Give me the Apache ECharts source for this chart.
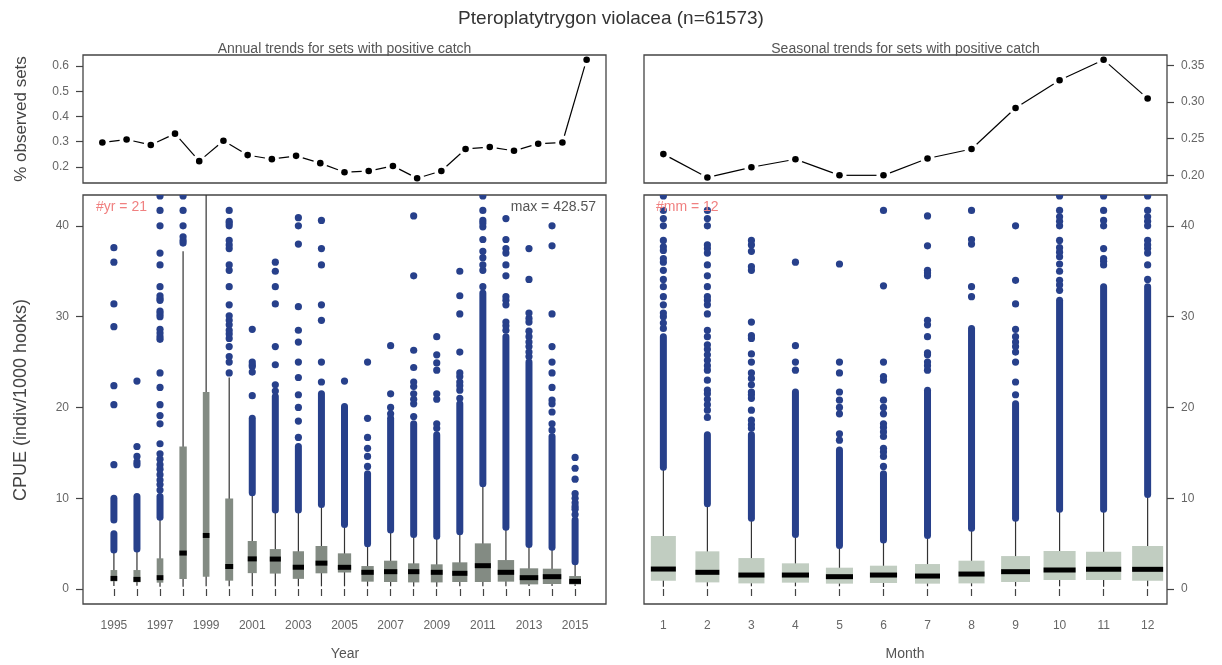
<!DOCTYPE html>
<html><head><meta charset="utf-8">
<script src="https://cdn.jsdelivr.net/npm/echarts@6/dist/echarts.min.js"></script>
<style>html,body{margin:0;padding:0;background:#fff}#c{width:1222px;height:665px}</style>
</head><body><div id="c"></div>
<script>
// ---------------- data ----------------
const years = [1995,1996,1997,1998,1999,2000,2001,2002,2003,2004,2005,2006,2007,2008,2009,2010,2011,2012,2013,2014,2015];
const yearTickLabels = [1995,1997,1999,2001,2003,2005,2007,2009,2011,2013,2015];
const yearPct = [0.297,0.309,0.287,0.332,0.223,0.304,0.247,0.231,0.244,0.215,0.179,0.184,0.204,0.155,0.184,0.271,0.279,0.264,0.292,0.297,0.625];

const months = [1,2,3,4,5,6,7,8,9,10,11,12];
const monthPct = [0.229,0.197,0.211,0.222,0.200,0.200,0.223,0.236,0.292,0.330,0.358,0.305];

// box statistics (CPUE, indiv/1000 hooks)
const yearLow  = [0.33,0.35,0.26,0.26,0.30,0.30,0.30,0.30,0.30,0.30,0.30,0.30,0.30,0.28,0.25,0.30,0.30,0.30,0.33,0.33,0.33];
const yearQ1   = [0.85,0.75,0.70,1.10,1.35,0.92,1.75,1.70,1.12,1.73,1.82,0.81,0.77,0.73,0.73,0.77,0.77,0.81,0.51,0.55,0.51];
const yearMed  = [1.17,1.06,1.25,3.96,5.90,2.48,3.32,3.30,2.40,2.85,2.39,1.84,1.91,1.91,1.84,1.73,2.57,1.84,1.25,1.36,0.84];
const yearQ3   = [2.09,2.09,3.38,15.7,21.7,9.97,5.29,4.40,4.16,4.74,3.93,2.53,3.12,2.83,2.72,2.94,5.03,3.19,2.28,2.24,1.43];
const yearHigh = [4.1,4.2,7.7,37.2,48.0,23.3,10.4,8.5,8.5,9.1,6.9,4.85,6.3,5.84,5.65,6.13,11.4,6.57,4.74,4.48,2.75];
const yearWeight = [0.36,0.38,0.36,0.40,0.36,0.43,0.49,0.60,0.61,0.64,0.72,0.67,0.72,0.61,0.64,0.82,0.87,0.89,1.00,1.00,0.64];

// outliers: dense stretches [from, to] and single points
const yearOutDense = [
  [[4.3,6.1],[7.6,10.0]], [[4.4,10.2]], [[7.9,10.2]], [], [], [],
  [[10.6,18.8]], [[8.7,21.2]], [[8.7,15.7]], [[9.3,21.5]], [[7.1,20.1]],
  [[5.0,12.7]], [[6.5,18.8]], [[6.0,18.2]], [[5.8,17.0]], [[6.3,20.4]],
  [[11.6,32.6]], [[6.8,27.8]], [[4.9,25.0]], [[4.6,16.8]], [[3.0,7.6]]
];
const yearOutPoints = [
  [13.7,20.3,22.4,28.9,31.4,36.0,37.6],
  [13.7,14.0,14.6,15.7,22.9],
  [10.9,11.5,12.0,12.6,13.2,13.7,14.3,14.9,16.0,18.2,19.1,20.3,22.2,23.8,27.5,27.8,28.2,28.6,30.0,30.3,30.6,31.8,32.0,32.3,33.3,35.7,37.0,40.0,41.7,43.3],
  [38.1,38.4,38.8,40.0,41.7,43.3],
  [],
  [23.8,25.0,25.6,26.7,27.6,28.1,28.5,29.1,29.6,30.1,31.3,33.3,35.1,35.7,37.5,37.9,38.4,40.0,40.3,40.5,41.7],
  [21.3,23.9,24.5,24.7,25.0,28.6],
  [21.8,22.5,24.7,26.7,31.4,33.3,35.0,36.0],
  [16.7,18.5,20.0,21.4,23.3,25.0,27.2,28.5,31.1,38.0,40.0,40.9],
  [22.8,25.0,29.6,31.3,35.7,37.5,40.6],
  [22.9],
  [13.5,14.6,15.5,16.7,18.8,25.0],
  [19.3,20.0,21.5,26.8],
  [19.0,20.4,20.9,21.5,22.3,22.8,24.4,26.3,34.5,41.1],
  [17.7,18.2,20.9,21.5,24.1,24.9,25.8,27.8],
  [21.0,21.9,22.4,22.8,23.4,23.8,26.1,30.3,32.3,35.0],
  [33.3,35.1,35.7,36.5,37.2,38.5,39.9,40.3,40.6,41.7,43.3],
  [28.5,29.0,29.4,31.3,31.8,32.2,34.5,35.7,37.0,37.5,38.5,40.8],
  [25.6,26.1,26.7,27.2,27.8,28.4,29.4,29.8,30.4,34.1,37.5],
  [17.5,18.2,19.5,20.4,20.8,22.2,23.8,25.0,26.7,30.3,37.8,40.0],
  [8.2,8.8,9.1,9.5,10.0,10.5,12.1,13.3,14.5]
];

const monthLow  = [0.26,0.30,0.30,0.30,0.30,0.22,0.30,0.30,0.30,0.30,0.26,0.30];
const monthQ1   = [0.92,0.73,0.62,0.70,0.59,0.66,0.59,0.62,0.77,0.99,0.99,0.92];
const monthMed  = [2.20,1.84,1.54,1.54,1.36,1.54,1.43,1.65,1.91,2.09,2.17,2.17];
const monthQ3   = [5.84,4.15,3.41,2.83,2.35,2.57,2.75,3.12,3.63,4.18,4.11,4.74];
const monthHigh = [13.2,9.25,7.67,5.84,4.66,5.21,5.76,6.57,7.6,8.63,8.63,10.2];
const monthWeight = [0.71,0.68,0.74,0.77,0.77,0.77,0.71,0.74,0.82,0.91,1.00,0.88];

const monthOutDense = [
  [[13.4,27.8]], [[9.4,17.0]], [[7.8,17.0]], [[6.0,21.7]], [[4.8,15.3]], [[5.4,12.7]],
  [[5.9,21.9]], [[6.7,28.7]], [[7.8,20.4]], [[8.8,31.8]], [[8.8,33.3]], [[10.4,33.3]]
];
const monthOutPoints = [
  [28.7,29.3,30.0,30.4,31.3,32.2,33.3,34.1,35.1,36.0,36.4,37.3,37.7,38.4,40.0,40.8,41.7,43.3],
  [18.9,19.7,20.3,20.9,21.5,21.9,23.0,24.1,24.6,25.2,25.8,26.4,26.9,27.8,28.5,30.3,31.3,31.8,32.2,33.3,34.5,35.7,37.0,37.5,37.9,40.0,40.8,41.7],
  [17.7,18.1,18.6,19.7,21.0,21.4,21.7,22.5,23.2,23.8,25.0,25.9,27.6,27.9,29.4,35.1,35.5,37.2,37.9,38.4],
  [24.1,25.0,26.8,36.0],
  [16.4,17.1,19.3,20.0,20.8,21.7,23.8,25.0,35.8],
  [13.5,14.6,15.1,15.5,16.8,17.3,17.8,18.2,19.3,20.0,20.8,23.0,23.4,25.0,33.4,41.7],
  [24.1,24.6,25.0,25.8,26.0,27.8,29.1,29.6,34.5,34.8,35.1,37.8,41.1],
  [32.2,33.3,38.0,38.5,41.7],
  [21.4,22.8,25.0,26.1,26.7,27.2,27.8,28.6,31.4,34.0,40.0],
  [32.9,33.5,34.0,35.0,35.8,36.6,37.1,37.6,38.4,40.0,40.5,41.0,41.7,43.3],
  [35.7,36.1,36.4,37.5,40.0,40.6,41.7,43.3],
  [34.1,35.7,37.0,37.5,37.9,38.4,40.0,40.5,41.0,41.7,43.3]
];

const pctTicksLeft = [0.2,0.3,0.4,0.5,0.6];
const pctTicksRight = [0.20,0.25,0.30,0.35];
const cpueTicks = [0,10,20,30,40];
const maxCpue = 428.57;
const totalN = 61573;

// ---------------- rendering ----------------
const FONT = "'Liberation Sans', Arial, sans-serif";
const BLUE = '#27408B';
const AX = '#444';
const LAB = '#666';

function pctRender(params, api) {
  const x = api.value(0), y = api.value(1);
  const p = api.coord([x, y]);
  const children = [{type:'circle', shape:{cx:p[0], cy:p[1], r:3.3}, style:{fill:'#000'}}];
  const nx = api.value(2), ny = api.value(3);
  if (!isNaN(nx)) {
    const q = api.coord([nx, ny]);
    const dx = q[0]-p[0], dy = q[1]-p[1], L = Math.hypot(dx, dy), g = 7;
    if (L > 2*g) children.push({type:'line', shape:{x1:p[0]+dx*g/L, y1:p[1]+dy*g/L, x2:q[0]-dx*g/L, y2:q[1]-dy*g/L}, style:{stroke:'#000', lineWidth:1.2}});
  }
  return {type:'group', children};
}
function pctData(xs, vs) {
  return xs.map((x, i) => [x, vs[i], i < xs.length-1 ? xs[i+1] : NaN, i < xs.length-1 ? vs[i+1] : NaN]);
}
function boxRender(color) {
  return function(params, api) {
    const x = api.value(0);
    const unit = api.size([1, 0])[0];
    const w = api.value(6) * 0.8 * unit;
    const pL = api.coord([x, api.value(1)]);
    const p1 = api.coord([x, api.value(2)]);
    const pm = api.coord([x, api.value(3)]);
    const p3 = api.coord([x, api.value(4)]);
    const pH = api.coord([x, api.value(5)]);
    return {type:'group', children:[
      {type:'line', shape:{x1:pL[0], y1:pL[1], x2:pH[0], y2:pH[1]}, style:{stroke:'#333', lineWidth:1.2}},
      {type:'rect', shape:{x:p3[0]-w/2, y:p3[1], width:w, height:p1[1]-p3[1]}, style:{fill:color}},
      {type:'line', shape:{x1:pm[0]-w/2, y1:pm[1], x2:pm[0]+w/2, y2:pm[1]}, style:{stroke:'#000', lineWidth:5}}
    ]};
  };
}
function boxData(xs, lo, q1, md, q3, hi, wt) {
  return xs.map((x, i) => [x, lo[i], q1[i], md[i], q3[i], hi[i], wt[i]]);
}
function denseRender(params, api) {
  const x = api.value(0);
  const a = api.coord([x, api.value(1)]), b = api.coord([x, api.value(2)]);
  return {type:'line', shape:{x1:a[0], y1:a[1], x2:b[0], y2:b[1]}, style:{stroke:BLUE, lineWidth:7, lineCap:'round'}};
}
function pointRender(params, api) {
  const p = api.coord([api.value(0), api.value(1)]);
  return {type:'circle', shape:{cx:p[0], cy:p[1], r:3.6}, style:{fill:BLUE}};
}
function denseData(xs, dense) {
  const out = [];
  xs.forEach((x, i) => dense[i].forEach(r => out.push([x, r[0], r[1]])));
  return out;
}
function pointData(xs, pts) {
  const out = [];
  xs.forEach((x, i) => pts[i].forEach(v => out.push([x, v])));
  return out;
}

const labelStyle = {fontFamily: FONT, fontSize: 12, color: LAB};
function hiddenX(grid, min, max) {
  return {type:'value', gridIndex:grid, min, max, axisLine:{show:false}, axisTick:{show:false}, axisLabel:{show:false}, splitLine:{show:false}};
}
function shownX(grid, min, max, ticks, labels) {
  return {type:'value', gridIndex:grid, min, max,
    axisLine:{show:false},
    axisTick:{show:true, length:7, customValues:ticks, lineStyle:{color:AX, width:1.2}},
    axisLabel:Object.assign({customValues:labels, margin:16, formatter:v => String(v)}, labelStyle),
    splitLine:{show:false}};
}
function yAx(grid, min, max, ticks, pos, dec) {
  return {type:'value', gridIndex:grid, min, max, position:pos,
    axisLine:{show:false},
    axisTick:{show:true, length:7, customValues:ticks, lineStyle:{color:AX, width:1.2}},
    axisLabel:Object.assign({customValues:ticks, margin:14, formatter:v => Number(v).toFixed(dec)}, labelStyle),
    splitLine:{show:false}};
}

const gridBase = {show:true, borderColor:AX, borderWidth:1.3, backgroundColor:'transparent', containLabel:false};
const option = {
  animation: false,
  backgroundColor: '#fff',
  grid: [
    Object.assign({left:83, top:55, width:523, height:128}, gridBase),
    Object.assign({left:644, top:55, width:523, height:128}, gridBase),
    Object.assign({left:83, top:195, width:523, height:409}, gridBase),
    Object.assign({left:644, top:195, width:523, height:409}, gridBase)
  ],
  xAxis: [
    hiddenX(0, 1994.2, 2015.8),
    hiddenX(1, 0.56, 12.44),
    shownX(2, 1993.66, 2016.34, years, yearTickLabels),
    shownX(3, 0.56, 12.44, months, months)
  ],
  yAxis: [
    yAx(0, 0.1364, 0.6437, pctTicksLeft, 'left', 1),
    yAx(1, 0.1895, 0.3645, pctTicksRight, 'right', 2),
    yAx(2, -1.65, 43.4, cpueTicks, 'left', 0),
    yAx(3, -1.65, 43.4, cpueTicks, 'right', 0)
  ],
  series: [
    {type:'custom', xAxisIndex:0, yAxisIndex:0, clip:true, renderItem:pctRender, data:pctData(years, yearPct)},
    {type:'custom', xAxisIndex:1, yAxisIndex:1, clip:true, renderItem:pctRender, data:pctData(months, monthPct)},
    {type:'custom', xAxisIndex:2, yAxisIndex:2, clip:true, renderItem:boxRender('#838B83'),
      data:boxData(years, yearLow, yearQ1, yearMed, yearQ3, yearHigh, yearWeight)},
    {type:'custom', xAxisIndex:2, yAxisIndex:2, clip:true, renderItem:denseRender, data:denseData(years, yearOutDense)},
    {type:'custom', xAxisIndex:2, yAxisIndex:2, clip:true, renderItem:pointRender, data:pointData(years, yearOutPoints)},
    {type:'custom', xAxisIndex:3, yAxisIndex:3, clip:true, renderItem:boxRender('#C1CDC1'),
      data:boxData(months, monthLow, monthQ1, monthMed, monthQ3, monthHigh, monthWeight)},
    {type:'custom', xAxisIndex:3, yAxisIndex:3, clip:true, renderItem:denseRender, data:denseData(months, monthOutDense)},
    {type:'custom', xAxisIndex:3, yAxisIndex:3, clip:true, renderItem:pointRender, data:pointData(months, monthOutPoints)}
  ],
  graphic: [
    {type:'text', x:611, y:19, style:{text:'Pteroplatytrygon violacea (n=' + totalN + ')', font:'19px ' + FONT, fill:'#333', textAlign:'center', textVerticalAlign:'middle'}},
    {type:'text', x:344.5, y:49, style:{text:'Annual trends for sets with positive catch', font:'14px ' + FONT, fill:'#555', textAlign:'center', textVerticalAlign:'middle'}},
    {type:'text', x:905.5, y:49, style:{text:'Seasonal trends for sets with positive catch', font:'14px ' + FONT, fill:'#555', textAlign:'center', textVerticalAlign:'middle'}},
    {type:'text', x:21, y:119, rotation:Math.PI/2, style:{text:'% observed sets', font:'17px ' + FONT, fill:'#444', textAlign:'center', textVerticalAlign:'middle'}},
    {type:'text', x:21, y:400, rotation:Math.PI/2, style:{text:'CPUE (indiv/1000 hooks)', font:'18px ' + FONT, fill:'#444', textAlign:'center', textVerticalAlign:'middle'}},
    {type:'text', x:345, y:654, style:{text:'Year', font:'14px ' + FONT, fill:'#555', textAlign:'center', textVerticalAlign:'middle'}},
    {type:'text', x:905, y:654, style:{text:'Month', font:'14px ' + FONT, fill:'#555', textAlign:'center', textVerticalAlign:'middle'}},
    {type:'text', x:96, y:207, z:100, style:{text:'#yr = ' + years.length, font:'14px ' + FONT, fill:'#F08080', textAlign:'left', textVerticalAlign:'middle'}},
    {type:'text', x:596, y:207, z:100, style:{text:'max = ' + maxCpue, font:'14px ' + FONT, fill:'#555', textAlign:'right', textVerticalAlign:'middle'}},
    {type:'text', x:656, y:207, z:100, style:{text:'#mm = ' + months.length, font:'14px ' + FONT, fill:'#F08080', textAlign:'left', textVerticalAlign:'middle'}}
  ]
};
const chart = echarts.init(document.getElementById('c'));
chart.setOption(option);
</script>
</body></html>
